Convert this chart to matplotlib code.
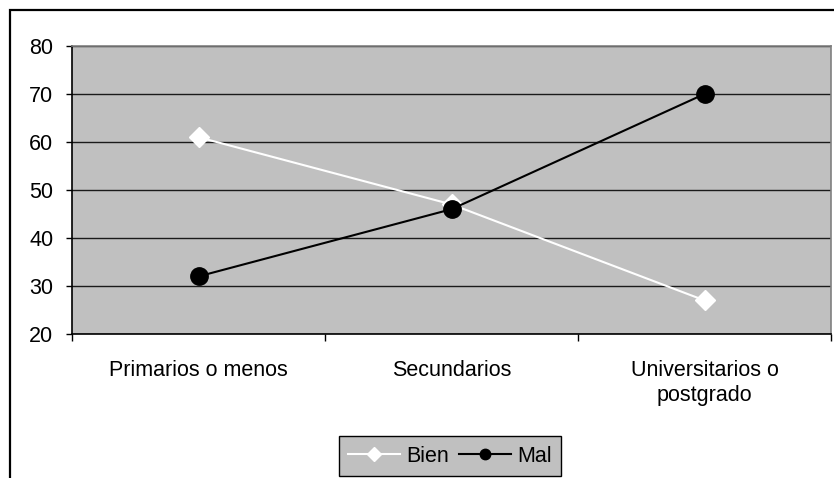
import matplotlib.pyplot as plt
from matplotlib.lines import Line2D
from matplotlib.patches import Rectangle

plt.rcParams["font.family"] = ["Liberation Sans", "DejaVu Sans"]

categories = ["Primarios o menos", "Secundarios", "Universitarios o\npostgrado"]
bien = [61, 47, 27]
mal = [32, 46, 70]
y_ticks = [20, 30, 40, 50, 60, 70, 80]

FS = 15.5
W, H = 834, 478
fig = plt.figure(figsize=(W / 100, H / 100), dpi=100)
fig.patch.set_facecolor("white")

# outer chart border (cut at right/bottom like the original)
fig.patches.append(Rectangle((10 / W, -0.1), 1.2, (H - 10) / H + 0.1,
                             transform=fig.transFigure, fill=False,
                             edgecolor="black", linewidth=1.6, zorder=0))

ax = fig.add_axes([72 / W, (H - 334) / H, (831 - 72) / W, (334 - 46) / H])
ax.set_facecolor("#C0C0C0")

x = list(range(len(categories)))
ax.plot(x, bien, color="white", linewidth=1.5, marker="D", markersize=10,
        markerfacecolor="white", markeredgecolor="white", zorder=3)
ax.plot(x, mal, color="black", linewidth=1.5, marker="o", markersize=12.5,
        markerfacecolor="black", markeredgecolor="black", zorder=4)

ax.set_xlim(-0.5, 2.5)
ax.set_ylim(20, 80)
ax.set_yticks(y_ticks)
ax.yaxis.grid(True, color="#1a1a1a", linewidth=1.0)
ax.set_axisbelow(True)

# category boundaries as major ticks, names as minor labels
ax.set_xticks([-0.5, 0.5, 1.5, 2.5])
ax.set_xticklabels([])
ax.set_xticks(x, minor=True)
ax.set_xticklabels(categories, minor=True, fontsize=FS, linespacing=1.2)
ax.tick_params(axis="x", which="minor", length=0, pad=19)
ax.tick_params(axis="x", which="major", length=5, width=1, direction="out")
ax.tick_params(axis="y", length=4.5, width=1, direction="out", pad=9,
               labelsize=FS)

for side in ("top", "right"):
    ax.spines[side].set_color("#808080")
    ax.spines[side].set_linewidth(1.2)
for side in ("left", "bottom"):
    ax.spines[side].set_color("black")
    ax.spines[side].set_linewidth(1.2)

handles = [
    Line2D([], [], color="white", linewidth=1.5, marker="D", markersize=7.5,
           markerfacecolor="white", markeredgecolor="white"),
    Line2D([], [], color="black", linewidth=1.5, marker="o", markersize=7.5,
           markerfacecolor="black", markeredgecolor="black"),
]
leg = fig.legend(handles, ["Bien", "Mal"], loc="center",
                 bbox_to_anchor=(450 / W, (H - 456) / H), ncol=2,
                 fontsize=FS, frameon=True, fancybox=False,
                 handlelength=2.4, handletextpad=0.3, columnspacing=0.45,
                 borderpad=0.42, borderaxespad=0)
leg.get_frame().set_facecolor("#C0C0C0")
leg.get_frame().set_edgecolor("black")
leg.get_frame().set_linewidth(1.0)
leg.get_frame().set_alpha(1)

fig.savefig("out.png", dpi=100)
